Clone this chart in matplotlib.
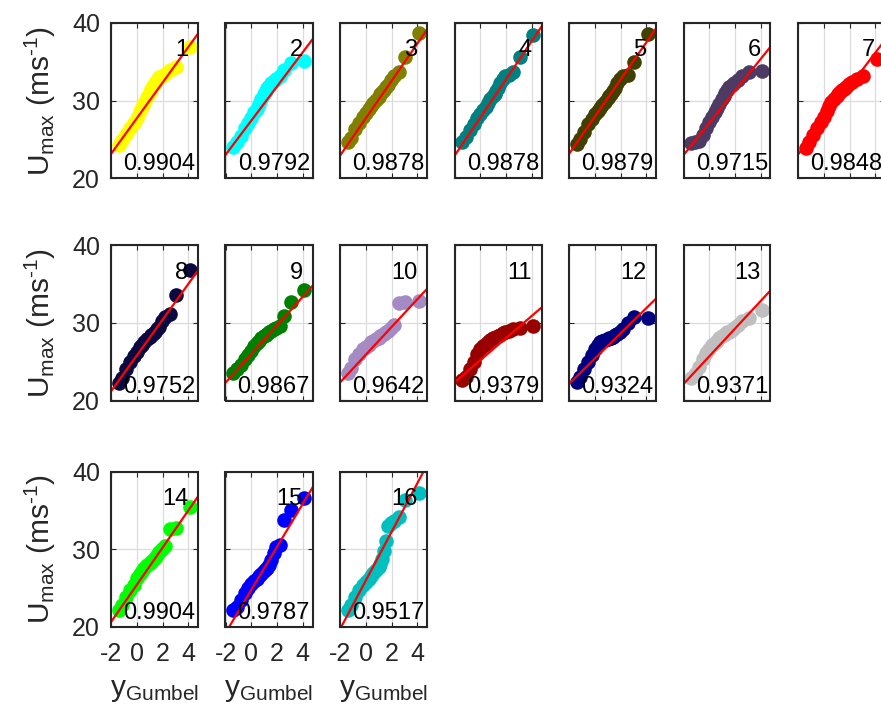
import numpy as np
import matplotlib
matplotlib.use('Agg')
import matplotlib.pyplot as plt

plt.rcParams['font.family'] = ['Liberation Sans', 'DejaVu Sans']
plt.rcParams['mathtext.fontset'] = 'custom'
plt.rcParams['mathtext.rm'] = 'Liberation Sans'
plt.rcParams['mathtext.it'] = 'Liberation Sans:italic'
plt.rcParams['axes.unicode_minus'] = False

# Gumbel reduced variate (shared by all stations)
y_gumbel = [-1.41, -1.13, -0.82, -0.5, -0.24, 0.0, 0.24, 0.41, 0.59, 0.78, 0.99,
            1.11, 1.24, 1.38, 1.54, 1.73, 1.94, 2.2, 2.55, 3.06, 4.1]

# sorted annual max wind speed per station (m/s)
u01 = [24.3, 24.9, 25.7, 26.5, 27.1, 27.8, 28.6, 29.1, 29.7, 30.4, 31.1, 31.5, 31.9, 32.3, 32.7, 33.0, 33.2, 33.4, 33.9, 34.3, 36.9]
u02 = [24.0, 24.6, 25.4, 26.4, 27.1, 27.8, 28.5, 28.9, 29.5, 30.2, 30.8, 31.2, 31.6, 31.9, 32.2, 32.5, 32.8, 33.1, 34.0, 34.8, 35.1]
u03 = [24.6, 25.2, 26.3, 27.1, 27.9, 28.4, 28.9, 29.3, 29.7, 30.1, 30.5, 30.8, 31.1, 31.4, 31.7, 32.0, 32.6, 33.2, 33.7, 35.6, 38.7]
u04 = [24.6, 25.3, 26.2, 27.0, 27.7, 28.3, 28.8, 29.2, 29.7, 30.2, 30.6, 30.9, 31.2, 31.6, 32.2, 32.8, 33.1, 33.3, 33.7, 35.6, 38.4]
u05 = [24.4, 25.0, 26.0, 27.0, 27.6, 28.2, 28.7, 29.0, 29.4, 29.8, 30.3, 30.6, 30.9, 31.2, 31.6, 32.2, 32.8, 33.1, 33.3, 35.0, 38.6]
u06 = [24.5, 24.6, 24.8, 25.5, 26.4, 27.2, 27.9, 28.5, 29.0, 29.6, 30.2, 30.6, 31.0, 31.3, 31.7, 32.0, 32.3, 32.7, 33.2, 33.7, 33.8]
u07 = [23.9, 24.6, 25.6, 26.5, 27.2, 27.9, 28.7, 29.3, 29.8, 30.2, 30.6, 30.9, 31.1, 31.3, 31.5, 31.8, 32.1, 32.4, 32.8, 33.1, 35.4]
u08 = [22.2, 22.9, 24.0, 25.0, 25.7, 26.3, 26.9, 27.2, 27.6, 27.9, 28.2, 28.4, 28.6, 28.9, 29.2, 29.5, 30.2, 30.8, 31.2, 33.6, 36.9]
u09 = [23.5, 24.0, 24.6, 25.3, 25.9, 26.4, 27.0, 27.4, 27.7, 28.0, 28.3, 28.5, 28.6, 28.8, 29.0, 29.2, 29.4, 29.6, 30.9, 32.7, 34.2]
u10 = [23.5, 24.2, 25.3, 26.0, 26.6, 26.9, 27.2, 27.5, 27.7, 27.9, 28.1, 28.3, 28.4, 28.6, 28.8, 29.0, 29.3, 29.8, 32.6, 32.7, 32.9]
u11 = [22.7, 23.0, 24.0, 25.0, 26.0, 26.6, 27.0, 27.3, 27.6, 27.8, 28.0, 28.1, 28.2, 28.3, 28.5, 28.7, 28.8, 29.0, 29.2, 29.4, 29.6]
u12 = [22.4, 23.0, 24.0, 25.0, 25.9, 26.6, 27.2, 27.5, 27.7, 27.8, 27.9, 28.0, 28.1, 28.2, 28.4, 28.6, 28.9, 29.2, 30.0, 30.8, 30.6]
u13 = [22.9, 23.4, 24.3, 25.3, 26.1, 26.6, 27.1, 27.4, 27.7, 28.0, 28.3, 28.5, 28.6, 28.8, 28.9, 29.1, 29.4, 29.8, 30.3, 30.6, 31.7]
u14 = [22.2, 22.8, 23.8, 24.7, 25.4, 26.3, 26.8, 27.2, 27.6, 27.9, 28.2, 28.4, 28.6, 28.9, 29.2, 29.6, 30.0, 30.4, 32.6, 32.8, 35.5]
u15 = [22.1, 22.6, 23.5, 24.3, 25.0, 25.5, 25.9, 26.2, 26.5, 26.8, 27.2, 27.4, 27.6, 28.0, 28.6, 29.5, 30.3, 30.6, 33.8, 35.1, 36.6]
u16 = [22.2, 22.8, 23.8, 24.7, 25.4, 25.8, 26.1, 26.5, 26.9, 27.3, 27.7, 28.1, 28.8, 29.8, 31.0, 33.0, 33.4, 33.7, 34.1, 36.4, 37.3]
series = [u01, u02, u03, u04, u05, u06, u07, u08, u09, u10, u11, u12, u13, u14, u15, u16]

# Gumbel fit lines: Umax = a + b*y
fit_a = [27.7, 27.4, 27.7, 27.8, 27.9, 27.1, 27.4, 25.8, 26.0, 25.9, 25.2, 25.4, 25.7, 25.4, 24.75, 25.95]
fit_b = [2.30, 2.21, 2.41, 2.47, 2.40, 2.07, 2.19, 2.31, 1.85, 1.79, 1.43, 1.63, 1.79, 2.40, 2.78, 3.14]

r_values = ['0.9904', '0.9792', '0.9878', '0.9878', '0.9879', '0.9715', '0.9848', '0.9752',
            '0.9867', '0.9642', '0.9379', '0.9324', '0.9371', '0.9904', '0.9787', '0.9517']

colors = ['#ffff00', '#00ffff', '#808000', '#008080', '#404000', '#4d3b63', '#ff0000', '#0a0a40',
          '#008000', '#a48bc4', '#990000', '#000080', '#bfbfbf', '#00ff00', '#0000ff', '#00bfbf']

W, H = 881, 712
fig = plt.figure(figsize=(W / 100, H / 100), dpi=100)

row_top = [23, 245.5, 471.7]
ax_h = 155
ax_w = 87
dark = '#262626'

for k in range(16):
    if k < 7:
        row, col = 0, k
    elif k < 13:
        row, col = 1, k - 7
    else:
        row, col = 2, k - 13
    left = 111 + 114.5 * col
    top = row_top[row]
    ax = fig.add_axes([left / W, 1 - (top + ax_h) / H, ax_w / W, ax_h / H])

    ax.plot(y_gumbel, series[k], 'o', color=colors[k], ms=10.5, mew=0)
    ax.axline((0, fit_a[k]), slope=fit_b[k], color='r', lw=1.6)

    ax.set_xlim(-2, 4.75)
    ax.set_ylim(20, 40)
    ax.set_xticks([-2, 0, 2, 4])
    ax.set_yticks([20, 30, 40])
    ax.grid(True, color='#dcdcdc', lw=0.9)
    ax.set_axisbelow(True)
    ax.tick_params(direction='in', length=3.5, width=0.8, top=True, right=True,
                   labelsize=18, colors=dark, labelcolor=dark)
    ax.tick_params(axis='x', pad=11)
    ax.tick_params(axis='y', pad=8)
    ax.tick_params(labelbottom=(row == 2), labelleft=(col == 0))
    for s in ax.spines.values():
        s.set_linewidth(1.5)
        s.set_color(dark)

    ax.text(4.0, 35.7, str(k + 1), ha='right', va='baseline', fontsize=17, color='k')
    ax.text(4.55, 21.0, r_values[k], ha='right', va='baseline', fontsize=17, color='k')

    if col == 0:
        fig.text(40 / W, 1 - (top + ax_h / 2) / H, 'U$_{\\mathrm{max}}$ (ms$^{\\mathrm{\u20101}}$)',
                 rotation=90, ha='center', va='center', fontsize=21.5, color=dark)
    if row == 2:
        fig.text((left + ax_w / 2) / W, 1 - 690 / H, r'y$_{\mathrm{Gumbel}}$',
                 ha='center', va='center', fontsize=21.5, color=dark)

fig.savefig('out.png', dpi=100)
